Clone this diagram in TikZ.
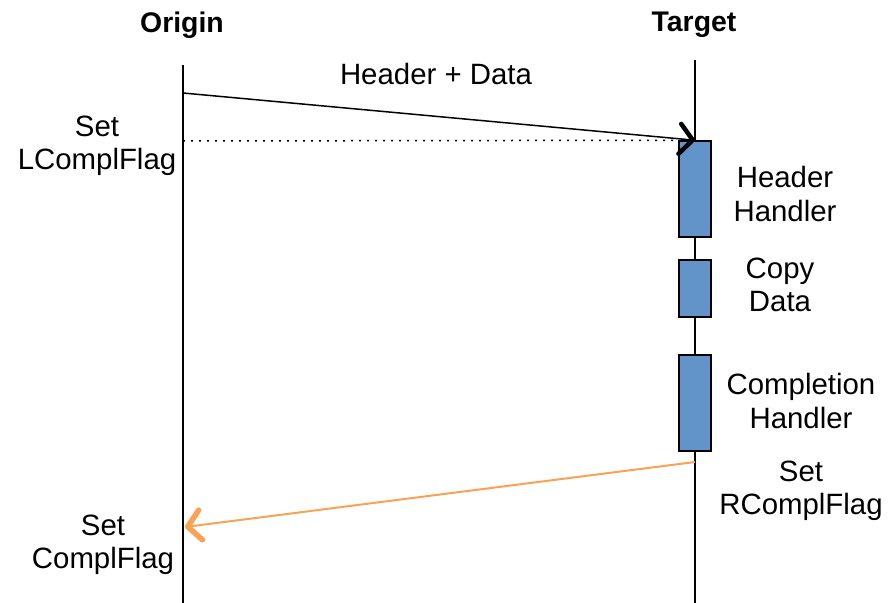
\documentclass[tikz,border=0pt]{standalone}
\usepackage{fontspec}
\setmainfont{Liberation Sans}
\usetikzlibrary{arrows.meta}
\definecolor{actblue}{RGB}{98,148,202}
\definecolor{replyorange}{RGB}{249,162,84}
\begin{document}
\begin{tikzpicture}[x=1bp,y=-1bp,
  lbl/.style={align=center,font=\fontsize{29.5}{33.5}\selectfont,inner sep=0pt},
  hdr/.style={font=\fontsize{28.5}{33}\selectfont\bfseries,inner sep=0pt},
  lifeline/.style={line width=1.5bp},
  actbox/.style={draw,line width=1.5bp,fill=actblue,minimum width=32bp,inner sep=0pt},
  msg/.style={line width=1.5bp,-{Straight Barb[length=13bp,width=30bp,line width=4.5bp,round]}},
  reply/.style={replyorange,line width=2bp,-{Straight Barb[length=13bp,width=30bp,line width=5.5bp,round]}},
  flagline/.style={line width=1.5bp,dash pattern=on 2bp off 6bp}
]
\useasboundingbox (0,0) rectangle (888,603);

% lifeline headers
\node[hdr] (origin) at (182,25) {Origin};
\node[hdr] (target) at (694,25) {Target};

% lifelines
\coordinate (otop) at (183,65);
\coordinate (obot) at (183,603);
\coordinate (ttop) at (695,60);
\coordinate (tbot) at (695,603);
\draw[lifeline] (otop) -- (obot);
\draw[lifeline] (ttop) -- (tbot);

% activation boxes on the target
\node[actbox,minimum height=96bp] (hh) at (695,189) {};
\node[actbox,minimum height=57bp] (cd) at (695,288.5) {};
\node[actbox,minimum height=96bp] (ch) at (695,403) {};

% put message
\coordinate (putstart) at (183,93);
\coordinate (lflag) at (183,141);
\draw[msg] (putstart) -- (hh.north);
\draw[flagline] (lflag) -- (hh.north west);
\node[lbl] (hdrdata) at (436,74) {Header + Data};

% completion notification
\coordinate (rstart) at (695,462);
\coordinate (rend) at (185,527);
\draw[reply] (rstart) -- (rend);

% labels
\node[lbl] (setl) at (97,146) {Set\\LComplFlag};
\node[lbl] (hhl) at (785,194) {Header\\Handler};
\node[lbl] (cdl) at (780,285) {Copy\\Data};
\node[lbl] (chl) at (801,401) {Completion\\Handler};
\node[lbl] (setr) at (801,491) {Set\\RComplFlag};
\node[lbl] (setc) at (103,545) {Set\\ComplFlag};
\end{tikzpicture}
\end{document}
